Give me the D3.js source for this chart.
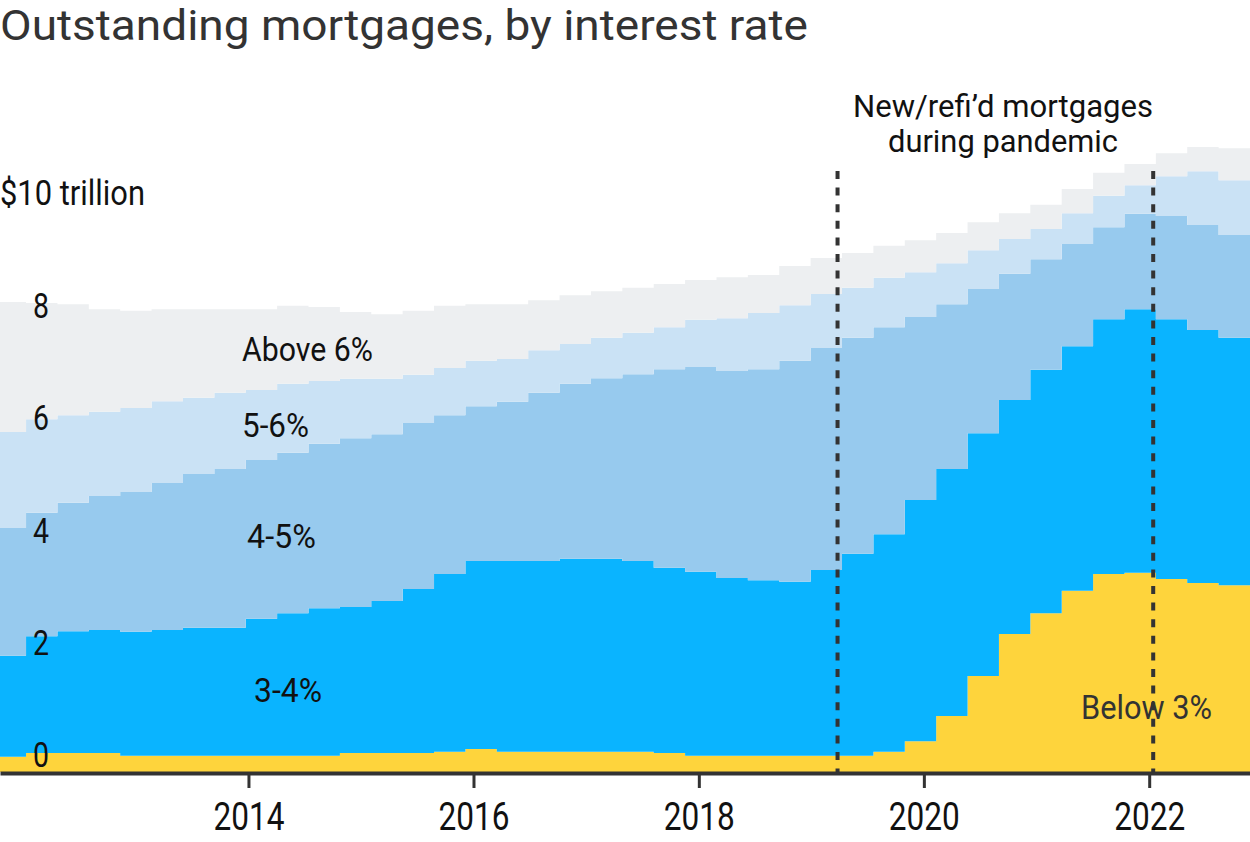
<!DOCTYPE html>
<html>
<head>
<meta charset="utf-8">
<script src="https://cdn.jsdelivr.net/npm/d3@7"></script>
<style>
  body { margin: 0; background: #fff; }
  svg { display: block; font-family: Roboto, "Noto Sans", sans-serif; }
</style>
</head>
<body>
<div id="chart"></div>
<script>
// values in $ trillion, one per step
const below3 = [0.27,0.34,0.34,0.34,0.29,0.29,0.29,0.29,0.29,0.29,0.29,0.34,0.34,0.34,0.36,0.41,0.36,0.36,0.36,0.36,
                0.36,0.34,0.29,0.29,0.29,0.29,0.29,0.29,0.36,0.55,1.00,1.71,2.46,2.83,3.23,3.53,3.55,3.44,3.37,3.33];
const rate3to4 = [1.80,2.08,2.17,2.19,2.21,2.24,2.28,2.28,2.44,2.54,2.63,2.60,2.71,2.92,3.17,3.35,3.40,3.40,3.44,3.44,
                  3.40,3.30,3.28,3.17,3.13,3.10,3.31,3.60,3.88,4.30,4.40,4.33,4.17,4.34,4.36,4.54,4.70,4.63,4.51,4.41];
const rate4to5 = [2.28,2.20,2.29,2.39,2.49,2.62,2.74,2.83,2.83,2.86,2.93,3.01,2.97,2.96,2.83,2.76,2.84,3.00,3.12,3.22,
                  3.33,3.54,3.65,3.69,3.76,3.94,3.96,3.85,3.69,3.26,2.94,2.57,2.25,1.97,1.82,1.64,1.70,1.84,1.87,1.83];
const rate5to6 = [1.71,1.67,1.56,1.50,1.50,1.46,1.36,1.36,1.25,1.23,1.12,1.06,0.99,0.86,0.84,0.81,0.76,0.76,0.71,0.72,
                  0.74,0.75,0.84,0.94,1.00,0.99,0.96,0.89,0.88,0.80,0.73,0.69,0.62,0.54,0.55,0.56,0.51,0.71,0.96,0.98];
const above6 = [2.32,2.07,1.98,1.83,1.73,1.64,1.58,1.49,1.44,1.39,1.32,1.19,1.15,1.14,1.11,1.01,0.98,0.89,0.87,0.83,
                0.80,0.77,0.71,0.73,0.68,0.70,0.64,0.62,0.57,0.57,0.54,0.50,0.46,0.43,0.43,0.41,0.38,0.41,0.43,0.57];

const seriesKeys = ['below3', 'rate3to4', 'rate4to5', 'rate5to6', 'above6'];
const seriesColors = ['#fed43c', '#0ab4ff', '#97caee', '#cae2f5', '#edeff1'];
const seriesLabels = ['Below 3%', '3-4%', '4-5%', '5-6%', 'Above 6%'];

const yTicks = [0, 2, 4, 6, 8, 10];
const yearTicks = [2014, 2016, 2018, 2020, 2022];
const pandemicMarks = [new Date(2019, 2, 27), new Date(2022, 0, 14)];

const W = 1250, H = 842;

const svg = d3.select('#chart').append('svg')
    .attr('width', W)
    .attr('height', H);

const stepX = d3.scaleLinear().domain([0.17, 40]).range([0, W]);
const timeX = d3.scaleTime().domain([new Date(2011, 9, 18), new Date(2022, 10, 24)]).range([0, W]);
const y = d3.scaleLinear().domain([0, 10]).range([772, 211]);

// one row per step, plus a closing row so the last step has width
const rows = below3.map((v, i) => ({
    i: i,
    below3: v,
    rate3to4: rate3to4[i],
    rate4to5: rate4to5[i],
    rate5to6: rate5to6[i],
    above6: above6[i]
}));
rows.push(Object.assign({}, rows[rows.length - 1], { i: rows.length }));

const stacked = d3.stack().keys(seriesKeys)(rows);

const area = d3.area()
    .curve(d3.curveStepAfter)
    .x(d => stepX(d.data.i))
    .y0(d => y(d[0]))
    .y1(d => y(d[1]));

svg.append('g')
    .selectAll('path')
    .data(stacked)
    .enter()
    .append('path')
    .attr('fill', (d, i) => seriesColors[i])
    .attr('d', area);

function squeeze(sel, w) {
    sel.attr('textLength', w).attr('lengthAdjust', 'spacingAndGlyphs');
}

// title
svg.append('text')
    .attr('x', 0)
    .attr('y', 40)
    .attr('fill', '#333')
    .style('font-size', '43px')
    .text('Outstanding mortgages, by interest rate')
    .call(squeeze, 808);

// y labels
yTicks.forEach(v => {
    if (v === 10) {
        svg.append('text')
            .attr('x', 0)
            .attr('y', y(v) - 6)
            .attr('fill', '#111')
            .style('font-size', '35px')
            .text('$10 trillion')
            .call(squeeze, 145);
    } else {
        svg.append('text')
            .attr('x', 49)
            .attr('y', y(v) - 5)
            .attr('text-anchor', 'end')
            .attr('fill', '#111')
            .style('font-size', '35px')
            .text(v)
            .call(squeeze, 16);
    }
});

// pandemic markers
svg.append('g')
    .selectAll('line')
    .data(pandemicMarks)
    .enter()
    .append('line')
    .attr('x1', d => timeX(d))
    .attr('x2', d => timeX(d))
    .attr('y1', 171)
    .attr('y2', y(0))
    .attr('stroke', '#333')
    .attr('stroke-width', 4)
    .attr('stroke-dasharray', '8,8.6');

// x axis
const xAxis = d3.axisBottom(timeX)
    .tickValues(yearTicks.map(yr => new Date(yr, 0, 1)))
    .tickFormat(d3.timeFormat('%Y'))
    .tickSize(15)
    .tickSizeOuter(0);

const axisG = svg.append('g')
    .attr('transform', `translate(0,${y(0) + 1})`)
    .call(xAxis);

axisG.select('.domain')
    .attr('stroke', '#333')
    .attr('stroke-width', 4);

axisG.selectAll('.tick line')
    .attr('stroke', '#333')
    .attr('stroke-width', 3);

axisG.selectAll('.tick text')
    .attr('y', 57)
    .attr('dy', 0)
    .attr('fill', '#111')
    .style('font-family', 'Roboto, "Noto Sans", sans-serif')
    .style('font-size', '38px')
    .call(squeeze, 71);

// series labels
const labelSpots = [
    { x: 1081, y: 719, w: 131, fill: '#333' },
    { x: 254, y: 702, w: 68, fill: '#111' },
    { x: 247, y: 548, w: 69, fill: '#111' },
    { x: 242, y: 437, w: 67, fill: '#111' },
    { x: 242, y: 361, w: 131, fill: '#111' }
];

seriesLabels.forEach((label, i) => {
    const spot = labelSpots[i];
    svg.append('text')
        .attr('x', spot.x)
        .attr('y', spot.y)
        .attr('fill', spot.fill)
        .style('font-size', '34px')
        .text(label)
        .call(squeeze, spot.w);
});

// annotation
const note = ['New/refi\u2019d mortgages', 'during pandemic'];
const noteWidths = [300, 230];
note.forEach((line, i) => {
    svg.append('text')
        .attr('x', 1003)
        .attr('y', 117 + i * 35)
        .attr('text-anchor', 'middle')
        .attr('fill', '#111')
        .style('font-size', '31px')
        .text(line)
        .call(squeeze, noteWidths[i]);
});
</script>
</body>
</html>
